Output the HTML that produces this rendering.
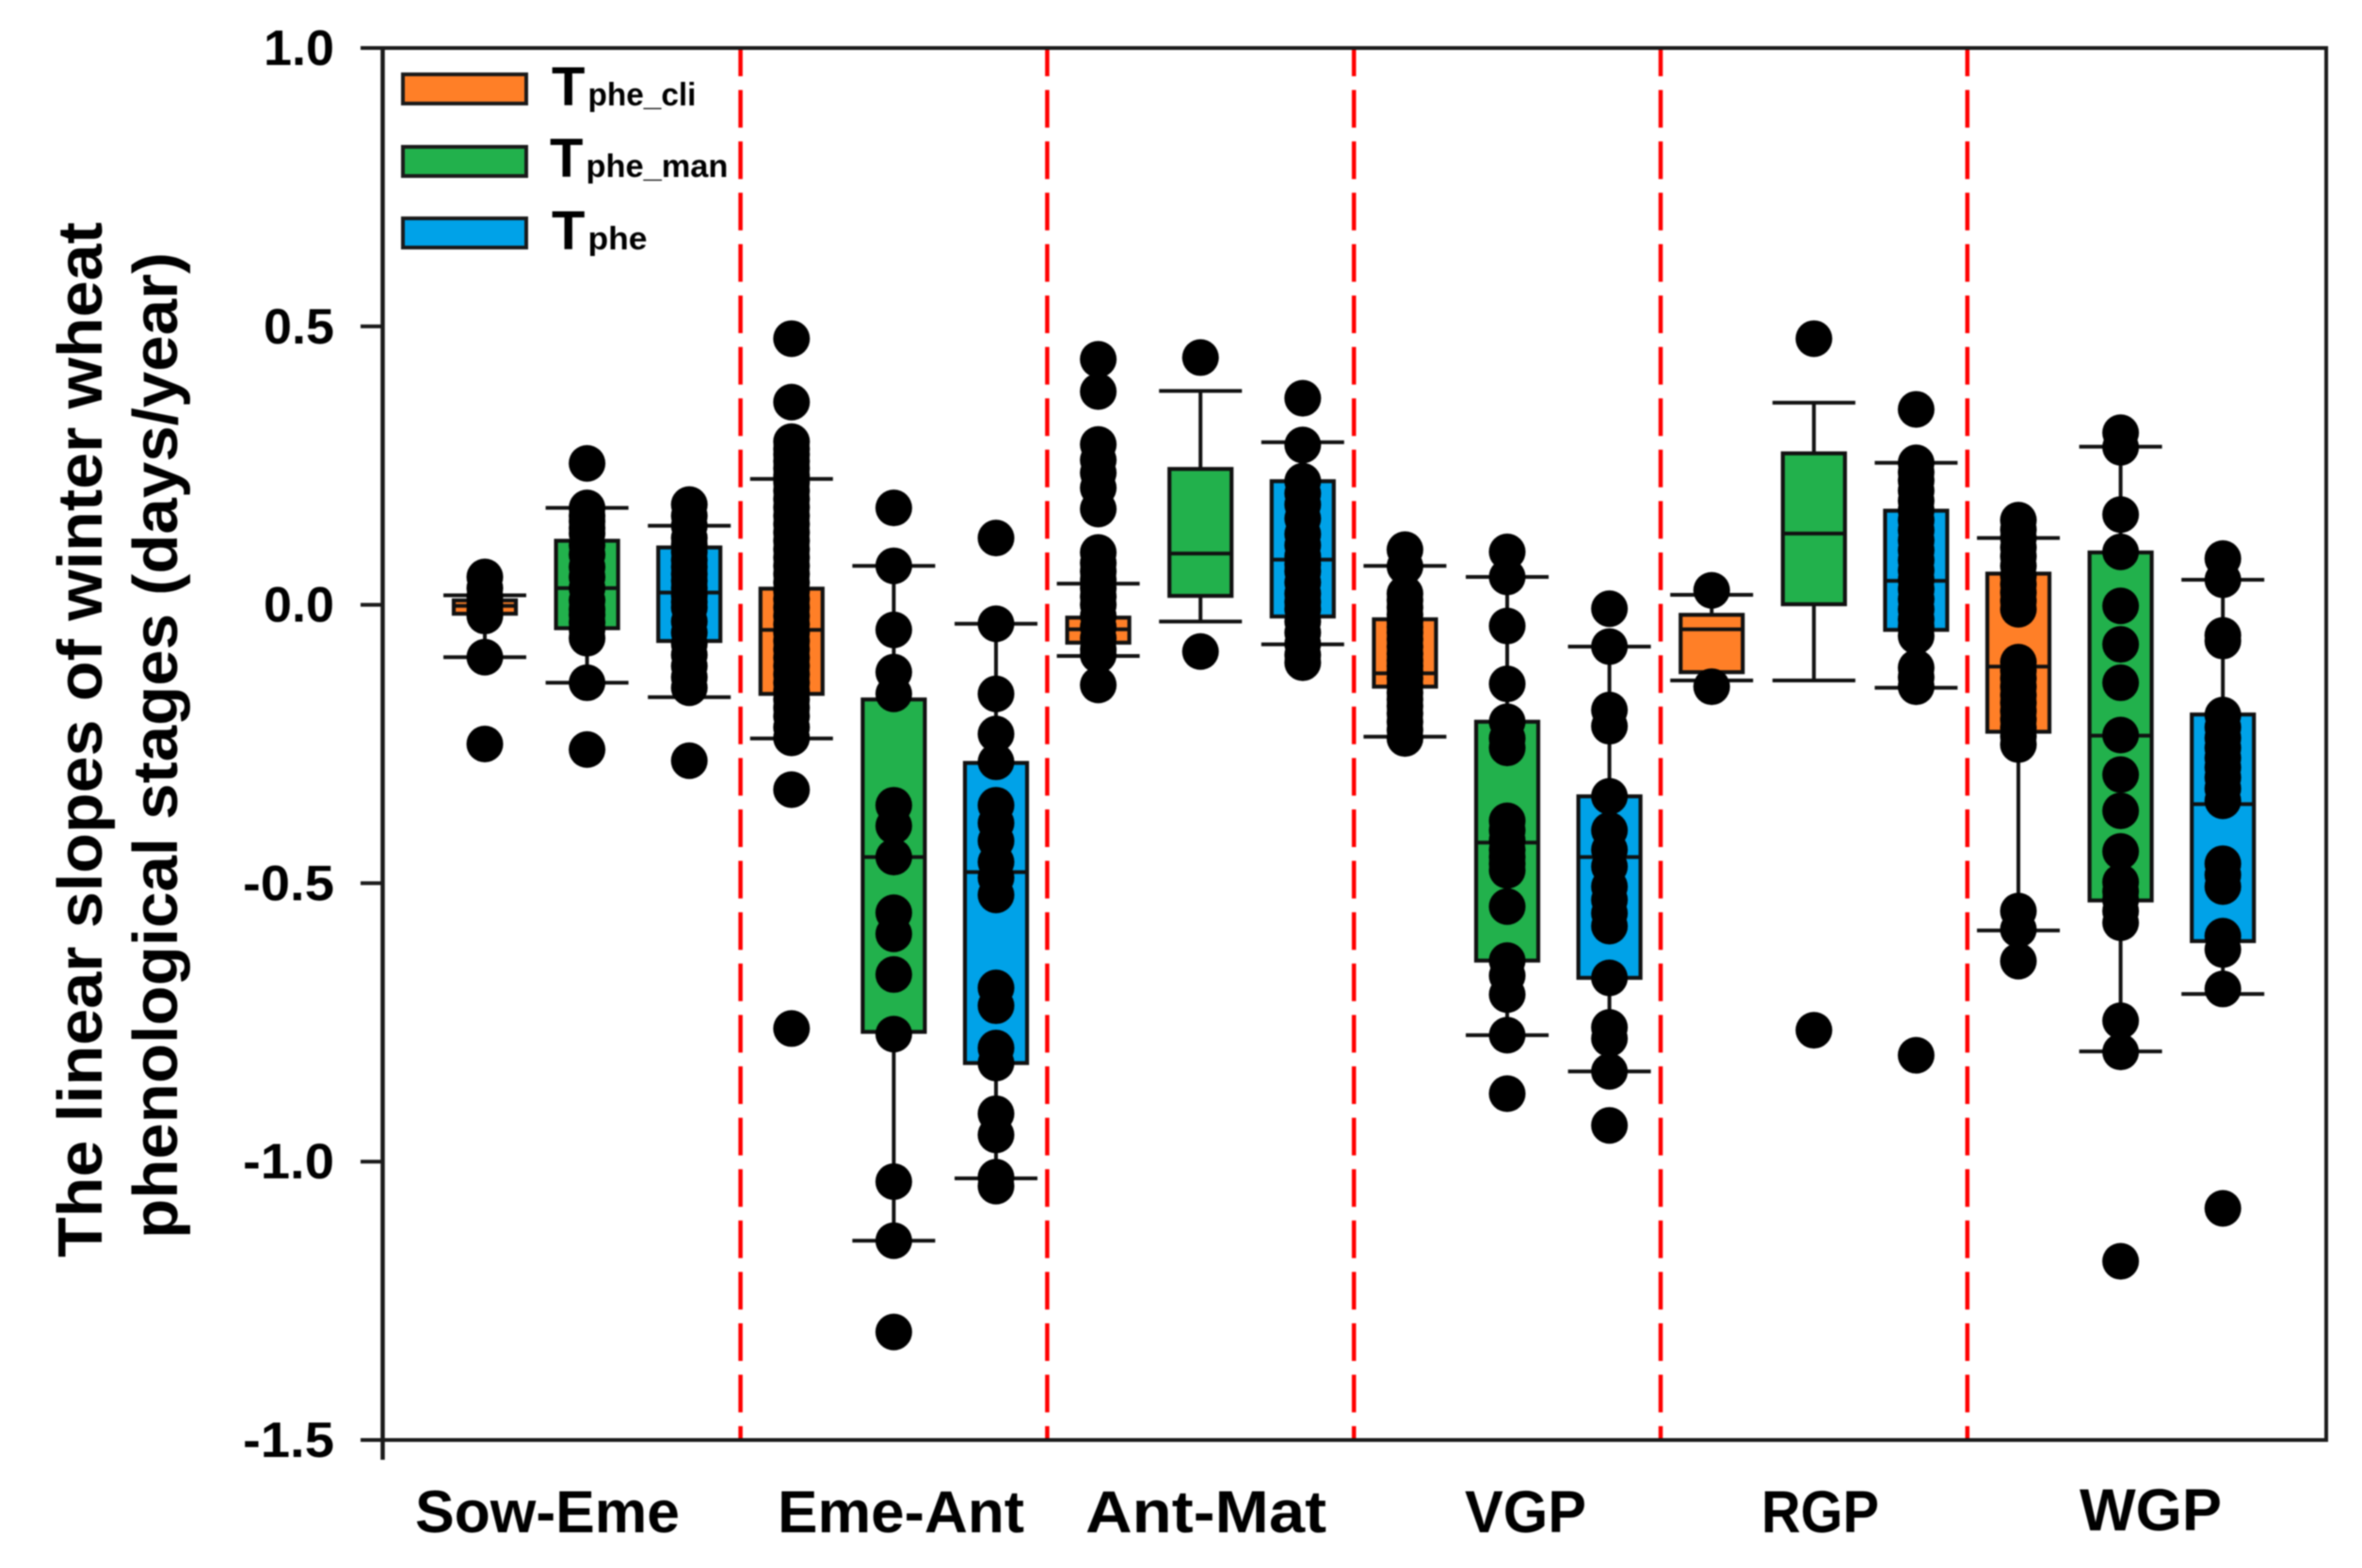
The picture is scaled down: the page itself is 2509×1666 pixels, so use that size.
<!DOCTYPE html>
<html lang="en">
<head>
<meta charset="utf-8">
<title>Linear slopes of winter wheat phenological stages</title>
<style>
html,body{margin:0;padding:0;background:#fff;width:2509px;height:1666px;overflow:hidden}
svg{display:block;filter:blur(0.8px)}
text{font-family:"Liberation Sans",Arial,sans-serif;font-weight:bold;fill:#000}
</style>
</head>
<body>
<svg id="chart" xmlns="http://www.w3.org/2000/svg" width="2509" height="1666" viewBox="0 0 2509 1666">
  <rect x="0" y="0" width="2509" height="1666" fill="#fff"/>
  <g id="dividers"></g>
  <g id="boxes"></g>
  <g id="axes"></g>
  <g font-size="67">
    <text transform="translate(108,1336) rotate(-90)" textLength="1100" lengthAdjust="spacingAndGlyphs">The linear slopes of winter wheat</text>
    <text transform="translate(188,1316) rotate(-90)" textLength="1048" lengthAdjust="spacingAndGlyphs">phenological stages (days/year)</text>
  </g>
  <g>
    <g>
      <rect x="428" y="79" width="131" height="31" fill="#FF7F27" stroke="#1a1a1a" stroke-width="4"/>
      <text x="586" y="112" font-size="58">T<tspan font-size="34" dx="3" textLength="115" lengthAdjust="spacingAndGlyphs">phe_cli</tspan></text>
    </g>
    <g>
      <rect x="428" y="156" width="131" height="31" fill="#22B14C" stroke="#1a1a1a" stroke-width="4"/>
      <text x="584" y="188" font-size="58">T<tspan font-size="34" dx="3" textLength="151" lengthAdjust="spacingAndGlyphs">phe_man</tspan></text>
    </g>
    <g>
      <rect x="428" y="232" width="131" height="31" fill="#00A2E8" stroke="#1a1a1a" stroke-width="4"/>
      <text x="586" y="265" font-size="58">T<tspan font-size="34" dx="3" textLength="63" lengthAdjust="spacingAndGlyphs">phe</tspan></text>
    </g>
  </g>
</svg>
<script>
const categories = ["Sow-Eme", "Eme-Ant", "Ant-Mat", "VGP", "RGP", "WGP"];
const seriesNames = ["Tphe_cli", "Tphe_man", "Tphe"];
const tickValues = [1.0, 0.5, 0.0, -0.5, -1.0, -1.5];
const tickLabels = ["1.0", "0.5", "0.0", "-0.5", "-1.0", "-1.5"];

// One entry per box: stage order, then cli / man / phe within each stage.
const q3Values = [0.008, 0.115, 0.103, 0.029, -0.170, -0.284, -0.023, 0.244, 0.222, -0.026, -0.210, -0.344, -0.018, 0.272, 0.169, 0.056, 0.094, -0.197];
const medianValues = [-0.002, 0.030, 0.022, -0.045, -0.453, -0.480, -0.044, 0.092, 0.081, -0.123, -0.427, -0.453, -0.044, 0.128, 0.043, -0.111, -0.235, -0.358];
const q1Values = [-0.016, -0.042, -0.065, -0.160, -0.767, -0.823, -0.068, 0.016, -0.021, -0.147, -0.639, -0.670, -0.121, 0.001, -0.045, -0.228, -0.531, -0.604];
const whiskerHighValues = [0.017, 0.174, 0.142, 0.226, 0.070, -0.034, 0.038, 0.384, 0.292, 0.070, 0.050, -0.075, 0.018, 0.363, 0.255, 0.120, 0.284, 0.045];
const whiskerLowValues = [-0.094, -0.140, -0.166, -0.240, -1.142, -1.030, -0.092, -0.030, -0.071, -0.237, -0.773, -0.838, -0.136, -0.136, -0.149, -0.585, -0.802, -0.699];
const pointValues = [
  [0.05, 0.03, 0.015, 0.0, -0.01, -0.02, -0.094, -0.25],
  [0.254, 0.174, 0.16, 0.15, 0.138, 0.128, 0.107, 0.09, 0.068, 0.05, 0.03, 0.008, -0.008, -0.018, -0.032, -0.044, -0.06, -0.14, -0.26],
  [0.18, 0.16, 0.142, 0.12, 0.108, 0.095, 0.08, 0.068, 0.055, 0.043, 0.03, 0.017, 0.005, -0.005, -0.03, -0.05, -0.07, -0.09, -0.11, -0.13, -0.149, -0.28],
  [0.478, 0.364, 0.293, 0.28, 0.27, 0.258, 0.245, 0.232, 0.22, 0.205, 0.19, 0.175, 0.16, 0.145, 0.13, 0.115, 0.1, 0.085, 0.07, 0.055, 0.04, 0.025, 0.01, -0.005, -0.02, -0.035, -0.05, -0.065, -0.08, -0.095, -0.11, -0.125, -0.14, -0.155, -0.17, -0.185, -0.2, -0.22, -0.239, -0.332, -0.761],
  [0.174, 0.07, -0.045, -0.121, -0.16, -0.36, -0.397, -0.453, -0.553, -0.591, -0.664, -0.771, -1.036, -1.142, -1.306],
  [0.12, -0.034, -0.16, -0.232, -0.282, -0.36, -0.392, -0.424, -0.462, -0.49, -0.521, -0.688, -0.72, -0.796, -0.823, -0.914, -0.952, -1.028, -1.044],
  [0.441, 0.383, 0.288, 0.26, 0.237, 0.21, 0.172, 0.094, 0.075, 0.06, 0.045, 0.03, 0.015, 0.0, -0.02, -0.04, -0.06, -0.08, -0.09, -0.144],
  [0.444, -0.084],
  [0.371, 0.287, 0.222, 0.2, 0.18, 0.155, 0.127, 0.107, 0.087, 0.073, 0.06, 0.04, 0.02, 0.005, -0.008, -0.03, -0.05, -0.07, -0.09, -0.104],
  [0.099, 0.069, 0.02, 0.008, -0.005, -0.018, -0.03, -0.04, -0.05, -0.062, -0.075, -0.088, -0.1, -0.11, -0.12, -0.132, -0.145, -0.158, -0.17, -0.182, -0.195, -0.21, -0.225, -0.24],
  [0.095, 0.05, -0.038, -0.142, -0.21, -0.24, -0.257, -0.388, -0.405, -0.423, -0.44, -0.453, -0.465, -0.477, -0.542, -0.639, -0.666, -0.70, -0.773, -0.878],
  [-0.007, -0.075, -0.189, -0.218, -0.344, -0.405, -0.44, -0.47, -0.506, -0.53, -0.554, -0.577, -0.67, -0.759, -0.779, -0.838, -0.935],
  [0.026, -0.147],
  [0.478, -0.764],
  [0.351, 0.255, 0.238, 0.223, 0.205, 0.187, 0.17, 0.152, 0.134, 0.116, 0.098, 0.08, 0.062, 0.045, 0.028, 0.01, -0.008, -0.026, -0.04, -0.056, -0.113, -0.13, -0.147, -0.809],
  [0.152, 0.135, 0.12, 0.103, 0.087, 0.07, 0.052, 0.037, 0.022, 0.007, -0.008, -0.103, -0.118, -0.132, -0.147, -0.162, -0.176, -0.191, -0.206, -0.221, -0.236, -0.251, -0.55, -0.583, -0.64],
  [0.309, 0.283, 0.162, 0.095, -0.002, -0.071, -0.14, -0.234, -0.305, -0.37, -0.443, -0.498, -0.515, -0.53, -0.55, -0.571, -0.747, -0.803, -1.179],
  [0.083, 0.045, -0.055, -0.065, -0.198, -0.22, -0.239, -0.257, -0.275, -0.292, -0.31, -0.33, -0.352, -0.465, -0.485, -0.506, -0.595, -0.619, -0.69, -1.084]
];

// Label extents measured per category label (styling, not data values).
const categoryLabelStyle = [
  { left: 441, span: 281, base: 1628 },
  { left: 826, span: 262, base: 1628 },
  { left: 1153, span: 256, base: 1628 },
  { left: 1556, span: 129, base: 1628 },
  { left: 1871, span: 125, base: 1628 },
  { left: 2209, span: 151, base: 1626 }
];

const NS = "http://www.w3.org/2000/svg";
const fills = ["#FF7F27", "#22B14C", "#00A2E8"];
const slugs = ["tphe-cli", "tphe-man", "tphe"];
const plot = { left: 406.5, right: 2471, top: 51, bottom: 1530 };
const firstCenter = 515, boxStep = 108.6, boxWidth = 66, capWidth = 88, dotRadius = 19.5;
const firstDivider = 786.6, dividerStep = 325.8;

function yScale(v) { return plot.top + (1 - v) * (plot.bottom - plot.top) / 2.5; }
function xScale(stage, series) { return firstCenter + (stage * seriesNames.length + series) * boxStep; }
function make(tag, attrs, parent) {
  const el = document.createElementNS(NS, tag);
  for (const k in attrs) el.setAttribute(k, attrs[k]);
  parent.appendChild(el);
  return el;
}

const axesG = document.getElementById("axes");
const dividersG = document.getElementById("dividers");
const boxesG = document.getElementById("boxes");

categories.forEach(function (cat, i) {
  if (i > 0) {
    const x = firstDivider + (i - 1) * dividerStep;
    const div = make("line", { x1: x, x2: x, y1: plot.top, y2: plot.bottom, stroke: "#ff0000", "stroke-width": 4.5, "stroke-dasharray": "40 14.6", "stroke-dashoffset": 10 }, dividersG);
    
    
  }
});

let boxIndex = 0;
categories.forEach(function (cat, s) {
  seriesNames.forEach(function (name, k) {
    const i = boxIndex++;
    const cx = xScale(s, k);
    const g = make("g", {}, boxesG);
    
    
    const lineStyle = { stroke: "#111", "stroke-width": 4 };
    const stem = make("line", Object.assign({ x1: cx, x2: cx, y1: yScale(whiskerHighValues[i]), y2: yScale(whiskerLowValues[i]) }, lineStyle), g);
    
    
    const capHigh = make("line", Object.assign({ x1: cx - capWidth / 2, x2: cx + capWidth / 2, y1: yScale(whiskerHighValues[i]), y2: yScale(whiskerHighValues[i]) }, lineStyle), g);
    
    
    const capLow = make("line", Object.assign({ x1: cx - capWidth / 2, x2: cx + capWidth / 2, y1: yScale(whiskerLowValues[i]), y2: yScale(whiskerLowValues[i]) }, lineStyle), g);
    
    
    const box = make("rect", { x: cx - boxWidth / 2, y: yScale(q3Values[i]), width: boxWidth, height: yScale(q1Values[i]) - yScale(q3Values[i]), fill: fills[k], stroke: "#111", "stroke-width": 4.2 }, g);
    
    
    const med = make("line", Object.assign({ x1: cx - boxWidth / 2, x2: cx + boxWidth / 2, y1: yScale(medianValues[i]), y2: yScale(medianValues[i]) }, lineStyle), g);
    
    
    pointValues[i].forEach(function (v) {
      const dot = make("circle", { cx: cx, cy: yScale(v), r: dotRadius, fill: "#000" }, g);
      
      
    });
  });
});

const frame = make("path", { d: "M383 " + plot.top + "H" + plot.right + "V" + plot.bottom + "H383", fill: "none", stroke: "#1a1a1a", "stroke-width": 4 }, axesG);


const spine = make("line", { x1: plot.left, x2: plot.left, y1: plot.top, y2: 1551, stroke: "#1a1a1a", "stroke-width": 4.5 }, axesG);



const tickLabelSpans = { 3: 75, 4: 97 };
tickValues.forEach(function (v, i) {
  const y = yScale(v);
  const tick = make("line", { x1: 383, x2: plot.left, y1: y, y2: y, stroke: "#1a1a1a", "stroke-width": 4 }, axesG);
  
  
  const span = tickLabelSpans[tickLabels[i].length];
  const label = make("text", { x: 355 - span, y: y + 18, "font-size": 53, textLength: span, lengthAdjust: "spacingAndGlyphs" }, axesG);
  label.textContent = tickLabels[i];
  
  
});

categories.forEach(function (cat, i) {
  const st = categoryLabelStyle[i];
  const label = make("text", { x: st.left, y: st.base, "font-size": 63, textLength: st.span, lengthAdjust: "spacingAndGlyphs" }, axesG);
  label.textContent = cat;
  
  
});
</script>
</body>
</html>
